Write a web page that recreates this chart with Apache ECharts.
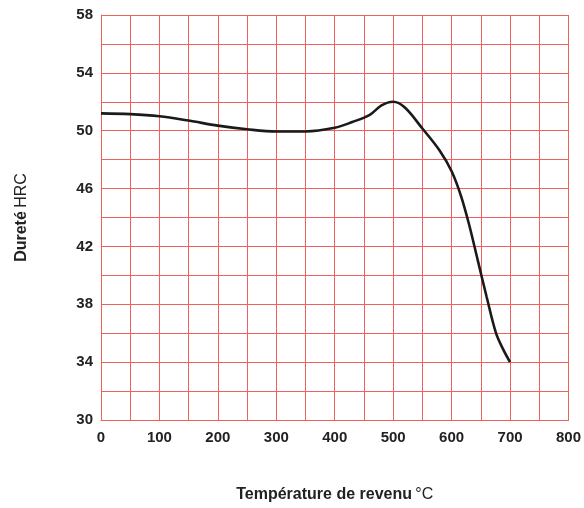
<!DOCTYPE html>
<html>
<head>
<meta charset="utf-8">
<script src="https://cdn.jsdelivr.net/npm/echarts@6/dist/echarts.min.js"></script>
<style>
  html, body { margin: 0; padding: 0; background: #fff; }
  #chart { width: 584px; height: 508px; }
</style>
</head>
<body>
<div id="chart"></div>
<script>
// Tempering curve: hardness (HRC) vs tempering temperature (°C)
const temperatures = [0, 50, 100, 150, 200, 250, 300, 350, 400, 430, 460, 480, 500, 520, 550, 580, 600, 616, 630, 645, 660, 676, 688, 700];
const hardness     = [51.2, 51.15, 51.0, 50.7, 50.35, 50.1, 49.95, 49.95, 50.2, 50.6, 51.1, 51.75, 52.0, 51.6, 50.15, 48.6, 47.2, 45.5, 43.5, 41.0, 38.5, 36.0, 34.9, 34.0];

// Tick labels shown on the axes (grid lines run every 50 °C / 2 HRC)
const xTickLabels = [0, 100, 200, 300, 400, 500, 600, 700, 800];
const yTickLabels = [30, 34, 38, 42, 46, 50, 54, 58];

const gridRed = '#ef625b';
const font = '"Liberation Sans", Arial, Helvetica, sans-serif';

const chart = echarts.init(document.getElementById('chart'), null, { renderer: 'canvas' });
chart.setOption({
  animation: false,
  grid: { left: 101, right: 15, top: 15, bottom: 83, containLabel: false },
  xAxis: {
    type: 'value', min: 0, max: 800, interval: 50,
    name: '{b|Température de revenu} {n|°C}',
    nameLocation: 'middle', nameGap: 67,
    nameTextStyle: {
      rich: {
        b: { fontFamily: font, fontWeight: 'bold', fontSize: 16, color: '#222' },
        n: { fontFamily: font, fontWeight: 'normal', fontSize: 16, color: '#222' }
      }
    },
    axisLine: { show: true, lineStyle: { color: gridRed, width: 1 } },
    axisTick: { show: false },
    axisLabel: {
      fontFamily: font, fontWeight: 'bold', fontSize: 15, color: '#222', margin: 10,
      formatter: v => xTickLabels.includes(v) ? String(v) : ''
    },
    splitLine: { show: true, lineStyle: { color: gridRed, width: 1 } }
  },
  yAxis: {
    type: 'value', min: 30, max: 58, interval: 2,
    name: '{b|Dureté} {n|HRC}',
    nameLocation: 'middle', nameGap: 71, nameRotate: 90,
    nameTextStyle: {
      rich: {
        b: { fontFamily: font, fontWeight: 'bold', fontSize: 16, color: '#222' },
        n: { fontFamily: font, fontWeight: 'normal', fontSize: 16, color: '#222' }
      }
    },
    axisLine: { show: true, lineStyle: { color: gridRed, width: 1 } },
    axisTick: { show: false },
    axisLabel: {
      fontFamily: font, fontWeight: 'bold', fontSize: 15, color: '#222', margin: 8,
      formatter: v => yTickLabels.includes(v) ? String(v) : ''
    },
    splitLine: { show: true, lineStyle: { color: gridRed, width: 1 } }
  },
  series: [{
    type: 'line',
    data: temperatures.map((t, i) => [t, hardness[i]]),
    smooth: 0.35,
    showSymbol: false,
    lineStyle: { color: '#1a1a1a', width: 2.6 }
  }]
});
</script>
</body>
</html>
